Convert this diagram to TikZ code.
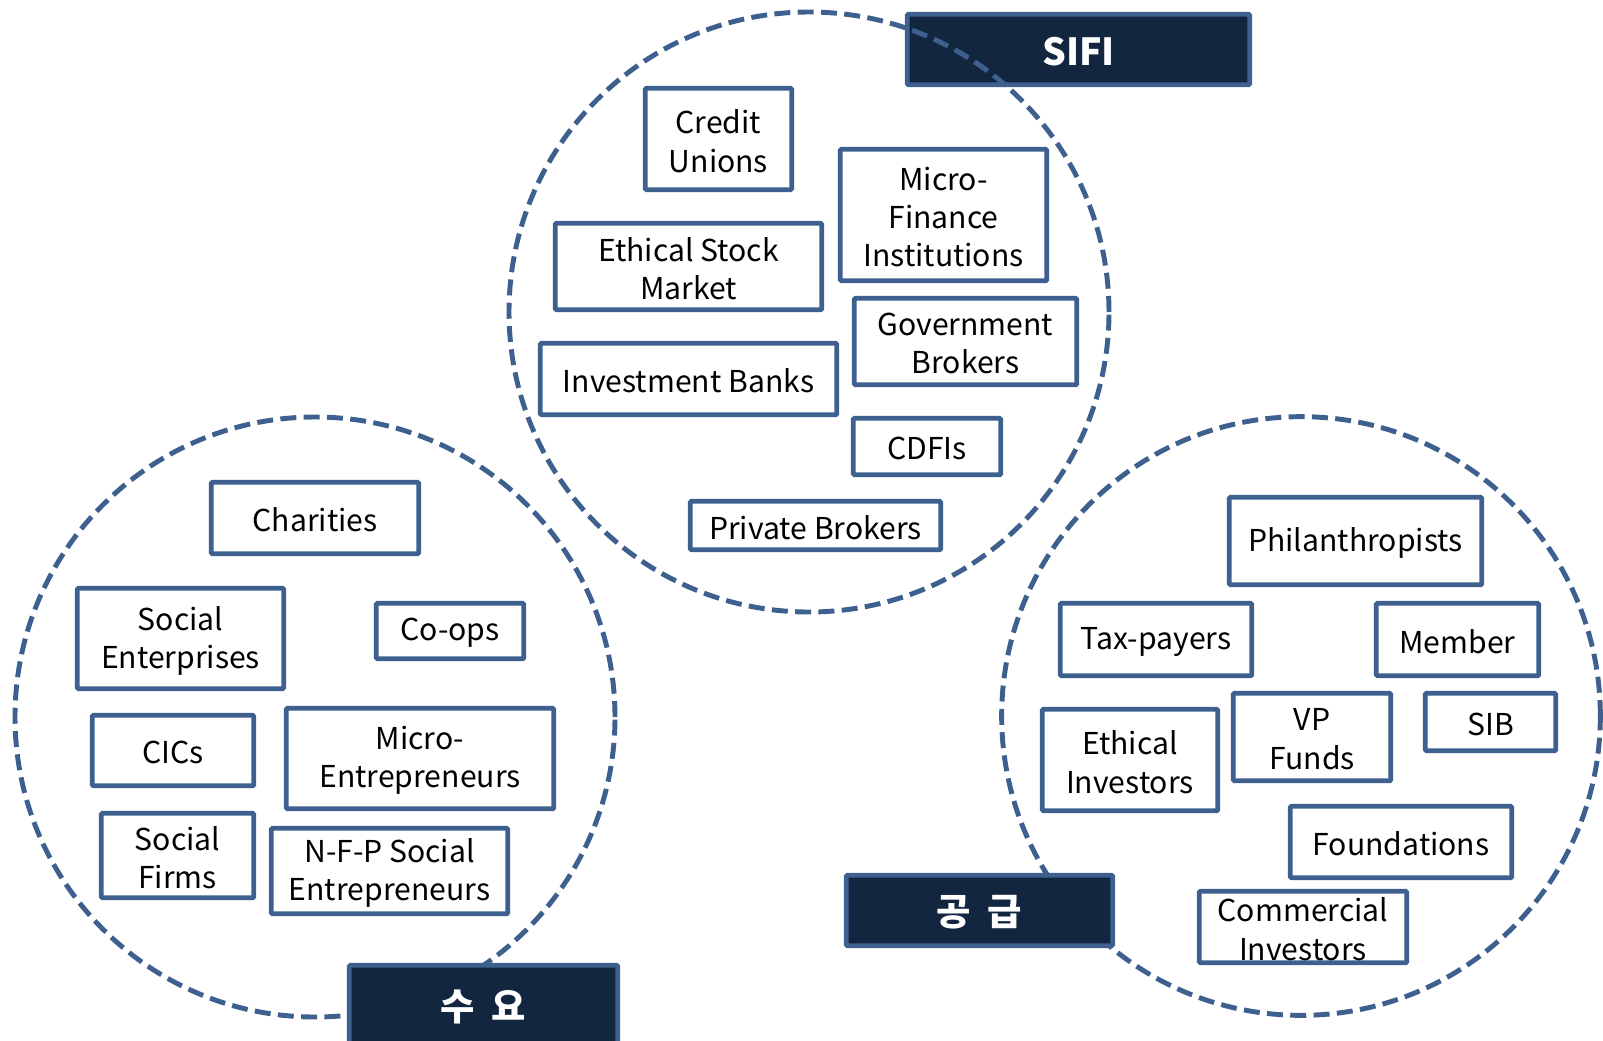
\documentclass[tikz,border=0pt]{standalone}
\usepackage{fontspec}
\setmainfont{Noto Sans CJK KR}
\definecolor{bord}{RGB}{62,96,142}
\definecolor{navy}{RGB}{19,38,64}
\tikzset{
  box/.style={draw=bord, line width=3.5pt, fill=white, inner sep=0pt, rounded corners=0.8pt},
  boxtext/.style={align=center, inner sep=0pt, font=\fontsize{22.6}{28.6}\selectfont},
  titlebox/.style={draw=bord, line width=3.6pt, fill=navy, inner sep=0pt, rounded corners=1pt},
  titletext/.style={text=white, inner sep=0pt, font=\fontsize{28}{32}\selectfont\bfseries},
  dcircle/.style={draw=bord, line width=3.7pt, dash pattern=on 12pt off 5.5pt, circle, inner sep=0pt}
}
\newcommand\mybox[8][box]{%
  \pgfmathsetmacro\bxcx{(#3+#5)/2}%
  \pgfmathsetmacro\bxcy{(#4+#6)/2}%
  \pgfmathsetmacro\bxw{(#5-#3-4.5)*0.75}%
  \pgfmathsetmacro\bxh{(#6-#4-4.5)*0.75}%
  \node[#1, minimum width=\bxw pt, minimum height=\bxh pt] (#2) at (\bxcx,\bxcy) {};
  \node[#8] (#2t) at ([yshift=-1.6pt]#2.center) {#7};}
\newcommand\gapchar{\hspace{0.45em}}
\begin{document}
\begin{tikzpicture}[x=0.75pt, y=-0.75pt]
\useasboundingbox (0,0) rectangle (1603,1040);
% lower circles
\node[dcircle, minimum size=450pt] (cleft) at (315,717) {};
\node[dcircle, minimum size=449pt] (cright) at (1301,716) {};
% title boxes over the lower circles
\mybox[titlebox]{demand}{347}{963}{620}{1046}{수\gapchar 요}{titletext}
\mybox[titlebox]{supply}{844}{873}{1115}{948}{공\gapchar 급}{titletext}
% SIFI box under the top circle
\mybox[titlebox]{sifi}{905}{12}{1252}{87}{SIFI}{titletext}
\node[dcircle, minimum size=450pt] (ctop) at (809,312) {};
% top circle (SIFI)
\mybox{cu}{643}{86}{794}{192}{Credit\\Unions}{boxtext}
\mybox{mfi}{838}{147}{1049}{283}{Micro-\\Finance\\Institutions}{boxtext}
\mybox{esm}{553}{221}{824}{312}{Ethical Stock\\Market}{boxtext}
\mybox{gb}{852}{296}{1079}{387}{Government\\Brokers}{boxtext}
\mybox{ib}{538}{341}{839}{417}{Investment Banks}{boxtext}
\mybox{cdfi}{851}{416}{1003}{477}{CDFIs}{boxtext}
\mybox{pb}{688}{499}{943}{552}{Private Brokers}{boxtext}
% left circle
\mybox{char}{209}{480}{421}{556}{Charities}{boxtext}
\mybox{se}{75}{586}{286}{691}{Social\\Enterprises}{boxtext}
\mybox{coop}{374}{601}{526}{661}{Co-ops}{boxtext}
\mybox{cic}{90}{713}{256}{788}{CICs}{boxtext}
\mybox{me}{284}{706}{556}{811}{Micro-\\Entrepreneurs}{boxtext}
\mybox{sf}{99}{811}{256}{900}{Social\\Firms}{boxtext}
\mybox{nfp}{269}{826}{510}{916}{N-F-P Social\\Entrepreneurs}{boxtext}
% right circle
\mybox{phil}{1227}{495}{1484}{587}{Philanthropists}{boxtext}
\mybox{tax}{1058}{601}{1254}{678}{Tax-payers}{boxtext}
\mybox{mem}{1374}{601}{1541}{678}{Member}{boxtext}
\mybox{ei}{1040}{707}{1220}{813}{Ethical\\Investors}{boxtext}
\mybox{vp}{1231}{691}{1393}{783}{VP\\Funds}{boxtext}
\mybox{sib}{1423}{691}{1558}{753}{SIB}{boxtext}
\mybox{found}{1288}{804}{1514}{880}{Foundations}{boxtext}
\mybox{ci}{1197}{889}{1409}{965}{Commercial\\Investors}{boxtext}
\end{tikzpicture}
\end{document}
